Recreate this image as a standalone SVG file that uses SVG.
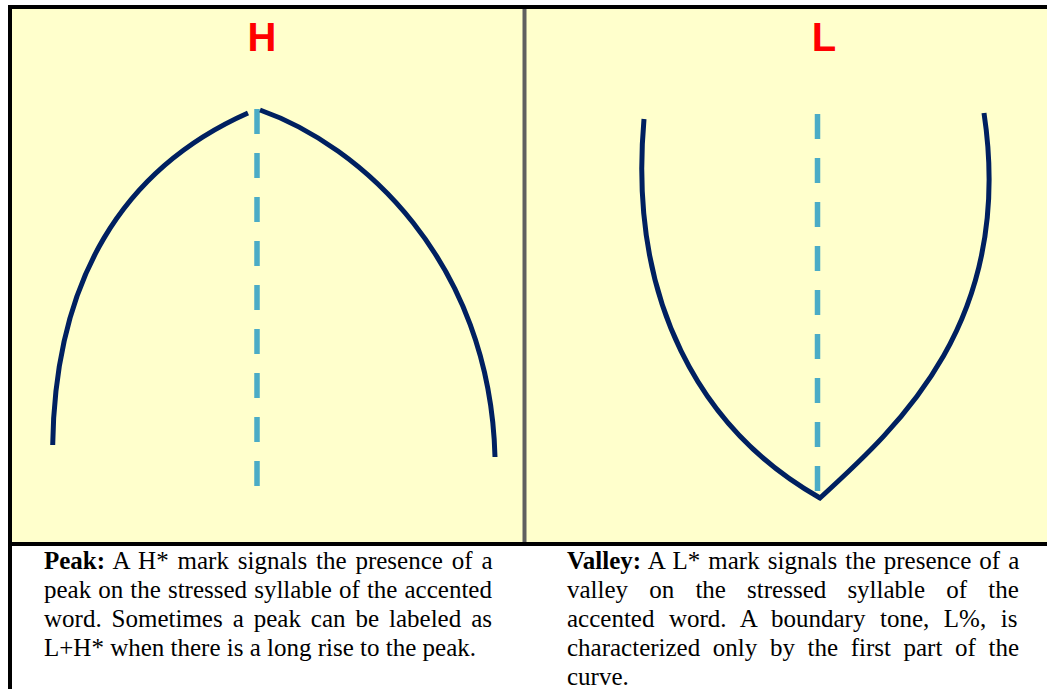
<svg xmlns="http://www.w3.org/2000/svg" width="1047" height="689" viewBox="0 0 1047 689">
  <style>
    .curve { fill: none; stroke: #002060; stroke-width: 5; stroke-linecap: butt; stroke-linejoin: miter; }
    .axis { fill: none; stroke: #4BACC6; stroke-width: 5.5; stroke-dasharray: 25 19; }
    .tone { font-family: "Liberation Sans", Arial, sans-serif; font-weight: bold; font-size: 40px; fill: #FF0000; text-anchor: middle; }
    .cap { font-family: "Liberation Serif", "Times New Roman", serif; font-size: 25px; fill: #000000; }
    .cap .b { font-weight: bold; }
  </style>
  <rect x="0" y="0" width="1047" height="689" fill="#FFFFFF"/>
  <g id="frame">
    <rect x="12" y="9" width="1035" height="533" fill="#FFFFCC"/>
    <line x1="8" y1="7" x2="1047" y2="7" stroke="#000000" stroke-width="4"/>
    <line x1="10" y1="5" x2="10" y2="689" stroke="#000000" stroke-width="4"/>
    <line x1="8" y1="544" x2="1047" y2="544" stroke="#000000" stroke-width="4"/>
    <line x1="524.5" y1="9" x2="524.5" y2="542" stroke="#606060" stroke-width="4"/>
  </g>
  <g id="panel-peak">
    <text class="tone" x="262" y="51">H</text>
    <line class="axis" x1="257" y1="109" x2="257" y2="486"/>
    <path class="curve" d="M52.7,445 C55,280 122,169 248,113"/>
    <path class="curve" d="M260,110 C360,145 490,260 495,457"/>
  </g>
  <g id="panel-valley">
    <text class="tone" x="824" y="51">L</text>
    <line class="axis" x1="817.5" y1="114" x2="817.5" y2="491"/>
    <path class="curve" d="M644,119 C628,300 700,430 820,498 C900,425 1015,320 984,113"/>
  </g>
  <g id="caption-peak" class="cap">
    <text x="44" y="569" word-spacing="2.6"><tspan class="b">Peak:</tspan> A H* mark signals the presence of a</text>
    <text x="44" y="598" word-spacing="0.82">peak on the stressed syllable of the accented</text>
    <text x="44" y="627" word-spacing="3.7">word. Sometimes a peak can be labeled as</text>
    <text x="44" y="656">L+H* when there is a long rise to the peak.</text>
  </g>
  <g id="caption-valley" class="cap">
    <text x="567" y="569" word-spacing="1.8"><tspan class="b">Valley:</tspan> A L* mark signals the presence of a</text>
    <text x="567" y="598" word-spacing="14.9">valley on the stressed syllable of the</text>
    <text x="567" y="627" word-spacing="8.3">accented word. A boundary tone, L%, is</text>
    <text x="567" y="656" word-spacing="6.36">characterized only by the first part of the</text>
    <text x="567" y="685">curve.</text>
  </g>
</svg>
